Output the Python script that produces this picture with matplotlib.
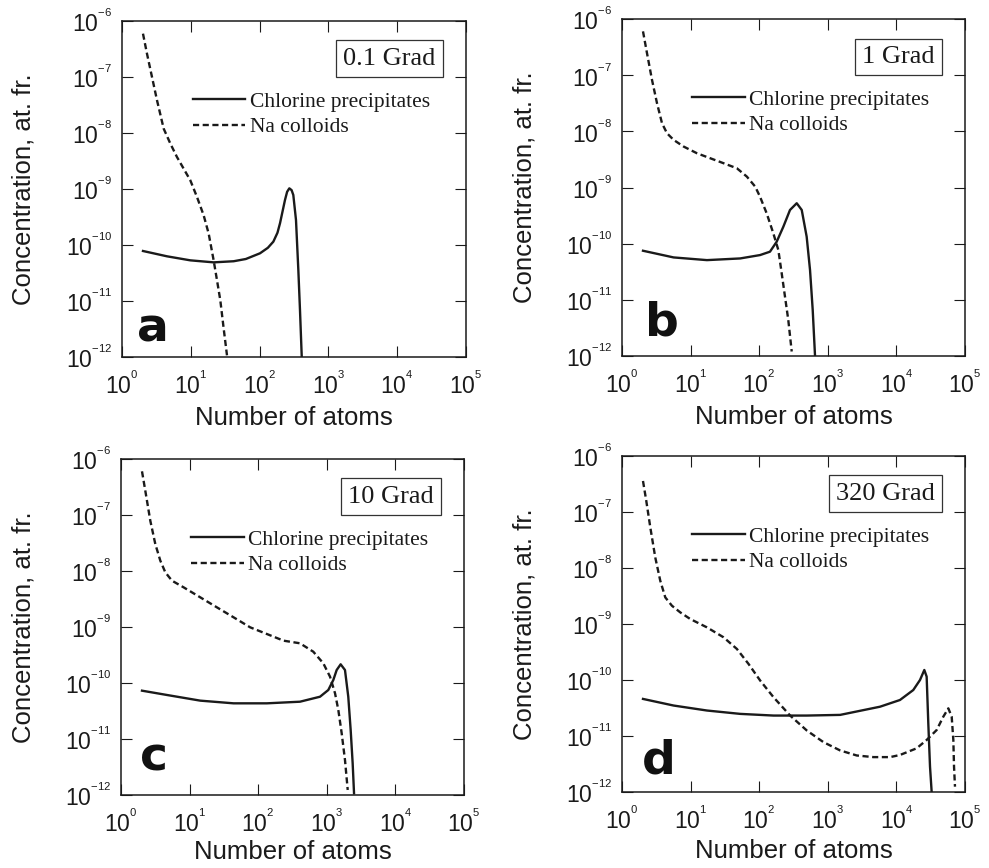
import numpy as np
import matplotlib
matplotlib.use("Agg")
import matplotlib.pyplot as plt
from matplotlib.ticker import LogLocator, NullLocator, FuncFormatter

plt.rcParams['font.family'] = ['Liberation Sans', 'DejaVu Sans']
plt.rcParams['mathtext.fontset'] = 'custom'
plt.rcParams['mathtext.rm'] = 'Liberation Sans'
plt.rcParams['mathtext.it'] = 'Liberation Sans:italic'
plt.rcParams['mathtext.bf'] = 'Liberation Sans:bold'
plt.rcParams['axes.unicode_minus'] = False

# ---- data: log10(number of atoms), log10(concentration) ----
panel_letters = ['a', 'b', 'c', 'd']
doses = ['0.1 Grad', '1 Grad', '10 Grad', '320 Grad']
legend_labels = ['Chlorine precipitates', 'Na colloids']

a_cl_lx = [0.305, 0.654, 0.993, 1.332, 1.623, 1.80, 2.006, 2.12, 2.2, 2.26, 2.297, 2.369, 2.40, 2.432, 2.465, 2.49, 2.529, 2.563, 2.587, 2.612]
a_cl_ly = [-10.107, -10.202, -10.274, -10.31, -10.29, -10.25, -10.148, -10.05, -9.94, -9.78, -9.61, -9.196, -9.05, -8.988, -9.02, -9.107, -9.554, -10.446, -11.16, -11.98]
a_na_lx = [0.305, 0.363, 0.436, 0.509, 0.606, 0.703, 0.799, 0.896, 0.993, 1.09, 1.187, 1.26, 1.332, 1.381, 1.429, 1.478, 1.526]
a_na_ly = [-6.226, -6.583, -7.0, -7.417, -7.923, -8.19, -8.429, -8.637, -8.845, -9.143, -9.47, -9.798, -10.274, -10.631, -10.988, -11.494, -11.97]

b_cl_lx = [0.306, 0.752, 1.238, 1.723, 2.012, 2.157, 2.255, 2.352, 2.449, 2.547, 2.62, 2.692, 2.741, 2.78, 2.813]
b_cl_ly = [-10.126, -10.245, -10.293, -10.263, -10.203, -10.143, -9.965, -9.698, -9.4, -9.28, -9.4, -9.876, -10.47, -11.18, -11.98]
b_na_lx = [0.306, 0.364, 0.437, 0.51, 0.583, 0.655, 0.752, 0.898, 1.092, 1.286, 1.481, 1.675, 1.82, 1.942, 2.012, 2.109, 2.206, 2.279, 2.328, 2.376, 2.424, 2.474]
b_na_ly = [-6.22, -6.606, -7.082, -7.498, -7.855, -8.033, -8.152, -8.271, -8.39, -8.479, -8.568, -8.658, -8.806, -8.985, -9.164, -9.46, -9.816, -10.113, -10.528, -10.944, -11.359, -11.92]

c_cl_lx = [0.306, 0.67, 1.155, 1.641, 2.126, 2.609, 2.901, 3.022, 3.095, 3.144, 3.202, 3.265, 3.313, 3.348, 3.377, 3.397]
c_cl_ly = [-10.137, -10.214, -10.315, -10.363, -10.363, -10.334, -10.245, -10.125, -9.946, -9.768, -9.666, -9.768, -10.245, -10.84, -11.434, -11.97]
c_na_lx = [0.306, 0.354, 0.427, 0.5, 0.573, 0.646, 0.743, 0.913, 1.155, 1.398, 1.641, 1.883, 2.126, 2.369, 2.609, 2.803, 2.949, 3.047, 3.12, 3.168, 3.217, 3.265, 3.305]
c_na_ly = [-6.22, -6.565, -7.101, -7.518, -7.815, -8.024, -8.173, -8.292, -8.47, -8.649, -8.827, -9.006, -9.125, -9.244, -9.291, -9.441, -9.648, -9.887, -10.184, -10.482, -10.898, -11.375, -11.91]

d_cl_lx = [0.306, 0.752, 1.238, 1.723, 2.209, 2.694, 3.18, 3.761, 4.052, 4.246, 4.344, 4.407, 4.441, 4.465, 4.49, 4.514]
d_cl_ly = [-10.338, -10.456, -10.545, -10.605, -10.635, -10.635, -10.623, -10.477, -10.357, -10.179, -10.0, -9.821, -9.94, -10.773, -11.548, -12.0]
d_na_lx = [0.306, 0.354, 0.413, 0.485, 0.558, 0.631, 0.728, 0.85, 0.995, 1.238, 1.481, 1.675, 1.845, 2.015, 2.209, 2.451, 2.694, 2.937, 3.18, 3.422, 3.665, 3.908, 4.052, 4.295, 4.441, 4.587, 4.684, 4.757, 4.806, 4.83, 4.84, 4.854]
d_na_ly = [-6.446, -6.802, -7.278, -7.812, -8.228, -8.525, -8.674, -8.793, -8.911, -9.06, -9.238, -9.446, -9.714, -10.011, -10.308, -10.635, -10.902, -11.11, -11.258, -11.348, -11.377, -11.377, -11.339, -11.22, -11.071, -10.893, -10.655, -10.506, -10.655, -11.071, -11.548, -11.905]

panels = [
    (a_cl_lx, a_cl_ly, a_na_lx, a_na_ly),
    (b_cl_lx, b_cl_ly, b_na_lx, b_na_ly),
    (c_cl_lx, c_cl_ly, c_na_lx, c_na_ly),
    (d_cl_lx, d_cl_ly, d_na_lx, d_na_ly),
]


def pow_fmt(v, pos):
    e = int(round(np.log10(v)))
    return r'$\mathdefault{10^{{}^{%d}}}$' % e


# ---- layout ----
W, H = 989, 868
fig = plt.figure(figsize=(W / 100, H / 100), dpi=100)
boxes_px = [(122, 21, 344, 336), (622, 19, 343, 337), (121, 459, 343, 336), (622, 456, 343, 336)]
letter_pos = [(0.044, 0.045), (0.067, 0.062), (0.055, 0.072), (0.058, 0.054)]
xlabel_y = [-0.145, -0.145, -0.135, -0.14]
ink = '#1a1a1a'

for i, (cx, cy, nx, ny) in enumerate(panels):
    l, t, w, h = boxes_px[i]
    ax = fig.add_axes([l / W, 1 - (t + h) / H, w / W, h / H])
    ax.set_xscale('log')
    ax.set_yscale('log')
    ax.plot(10 ** np.array(cx), 10 ** np.array(cy), color=ink, lw=1.7,
            label=legend_labels[0])
    ax.plot(10 ** np.array(nx), 10 ** np.array(ny), color=ink, lw=1.7,
            dashes=(2.6, 1.5), label=legend_labels[1])
    ax.set_xlim(1, 1e5)
    ax.set_ylim(1e-12, 1e-6)
    ax.xaxis.set_major_locator(LogLocator(base=10, numticks=10))
    ax.yaxis.set_major_locator(LogLocator(base=10, numticks=10))
    ax.xaxis.set_minor_locator(NullLocator())
    ax.yaxis.set_minor_locator(NullLocator())
    ax.xaxis.set_major_formatter(FuncFormatter(pow_fmt))
    ax.yaxis.set_major_formatter(FuncFormatter(pow_fmt))
    ax.tick_params(which='major', direction='in', length=8, width=0.8,
                   top=True, right=True, labelsize=16.5, colors=ink)
    ax.tick_params(axis='x', pad=10)
    ax.tick_params(axis='y', pad=7)
    for s in ax.spines.values():
        s.set_linewidth(1.1)
        s.set_color(ink)
    ax.set_xlabel('Number of atoms', fontsize=18.5, color=ink)
    ax.set_ylabel('Concentration, at. fr.', fontsize=18.5, color=ink)
    ax.xaxis.set_label_coords(0.5, xlabel_y[i])
    ax.yaxis.set_label_coords(-0.25, 0.5)

    leg = ax.legend(loc='upper left', bbox_to_anchor=(0.205, 0.79), frameon=False,
                    prop={'family': 'Liberation Serif', 'size': 15.5},
                    handlelength=2.45, handletextpad=0.2, labelspacing=0.25,
                    borderpad=0, borderaxespad=0)
    for txt in leg.get_texts():
        txt.set_color(ink)

    ax.text(0.912, 0.92, doses[i], transform=ax.transAxes, ha='right', va='top',
            fontsize=19, family='Liberation Serif', color=ink,
            bbox=dict(boxstyle='square,pad=0.28', facecolor='white',
                      edgecolor='#333333', linewidth=0.9))

    lx, ly = letter_pos[i]
    ax.text(lx, ly, panel_letters[i], transform=ax.transAxes, ha='left',
            va='baseline', fontsize=34, fontweight='bold', family='DejaVu Sans',
            color='#111111')

fig.savefig('out.png', dpi=100)
